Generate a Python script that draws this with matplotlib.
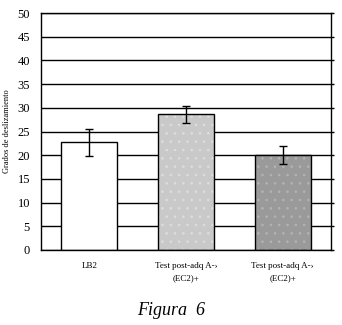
import numpy as np
import matplotlib
matplotlib.use('Agg')
import matplotlib.pyplot as plt

#Data
categories = ['LB2', 'Test post-adq A-›\n(EC2)+', 'Test post-adq A-›\n(EC2)+']
means = [22.7, 28.6, 20.0]
errors = [2.8, 1.8, 1.9]
bar_colors = ['white', '#c9c9c9', '#9a9a9a']
dot_colors = ['white', '#dedede', '#b4b4b4']

plt.rcParams['font.family'] = ['Liberation Serif', 'DejaVu Serif']
plt.rcParams['hatch.linewidth'] = 0.6

fig = plt.figure(figsize=(3.42, 3.25), dpi=100)
ax = fig.add_axes([0.12, 0.2308, 0.848, 0.729])

x = np.arange(len(categories))
ax.set_axisbelow(True)
ax.yaxis.grid(True, color='black', linewidth=1.0)
ax.bar(x, means, width=0.58, color=bar_colors, linewidth=0, zorder=2)
# faint dotted texture, then the black outline on top
ax.bar(x[1:], means[1:], width=0.58, color='none', edgecolor=dot_colors[1:], hatch='..', linewidth=0, zorder=2.1)
ax.bar(x, means, width=0.58, color='none', edgecolor='black', linewidth=1.0, zorder=2.2)
ax.errorbar(x, means, yerr=errors, fmt='none', ecolor='black', elinewidth=1.0, capsize=2.8, capthick=1.0, zorder=3)

ax.set_xlim(-0.5, 2.5)
ax.set_ylim(0, 50)
yticks = np.arange(0, 55, 5)
ax.set_yticks(yticks)
ax.set_yticklabels([str(v) for v in yticks], fontsize=9)
ax.set_xticks(x)
ax.set_xticklabels(categories, fontsize=6.5, linespacing=1.6)
ax.tick_params(axis='x', length=0, pad=9)
ax.tick_params(axis='y', left=False, right=True, length=2, width=1, pad=6)
for s in ax.spines.values():
    s.set_linewidth(1.0)

ax.set_ylabel('Grados de deslizamiento', fontsize=6)
ax.yaxis.set_label_coords(-0.105, 0.5)
fig.text(0.5, 0.03, 'Figura  6', fontsize=13, style='italic', ha='center')

fig.savefig('out.png', dpi=100)
